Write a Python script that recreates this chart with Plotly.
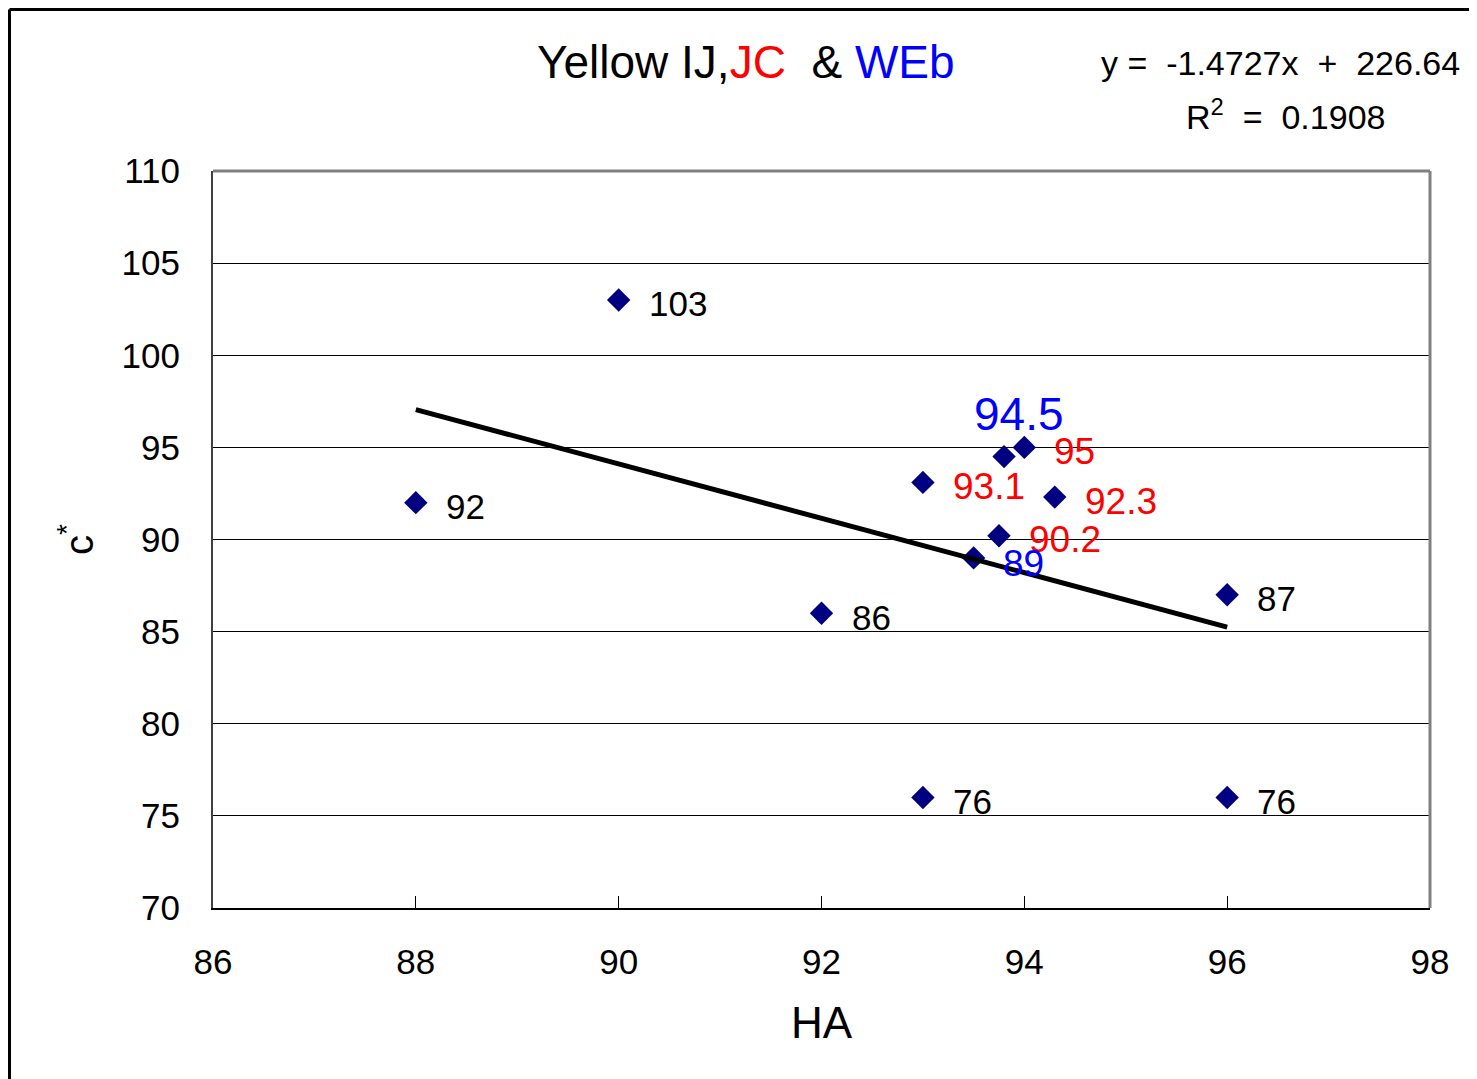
import numpy as np
import plotly.graph_objects as go

# points (HA on x, c* on y)
ha_ij = [88, 90, 92, 93, 96, 96]
c_ij = [92, 103, 86, 76, 76, 87]
ha_jc = [93.0, 94.0, 94.3, 93.75]
c_jc = [93.1, 95, 92.3, 90.2]
ha_web = [93.5, 93.8]
c_web = [89, 94.5]

x_ticks = [86, 88, 90, 92, 94, 96, 98]
y_ticks = [70, 75, 80, 85, 90, 95, 100, 105, 110]

FONT = "Liberation Sans, Arial, sans-serif"
NAVY = "#000080"

# plot area in page pixels, used to place the free text
L, R, T, B = 213, 1430, 171, 908
W, H = 1477, 1079
OFF = 8  # the page body margin shifts the figure by this much


def px(x):
    return (x - L) / (R - L)


def py(y):
    return (B - y) / (B - T)


all_x = np.array(ha_ij + ha_jc + ha_web)
all_y = np.array(c_ij + c_jc + c_web)
slope, icept = np.polyfit(all_x, all_y, 1)
trend_x = [all_x.min(), all_x.max()]
trend_y = [slope * v + icept for v in trend_x]

fig = go.Figure()

fig.add_trace(go.Scatter(
    x=ha_ij + ha_jc + ha_web, y=c_ij + c_jc + c_web,
    mode="markers",
    marker=dict(symbol="diamond", size=18, color=NAVY),
    showlegend=False, hoverinfo="x+y"))

# trendline sits on top of the markers, like in Excel
fig.add_trace(go.Scatter(
    x=trend_x, y=trend_y, mode="lines",
    line=dict(color="black", width=5),
    showlegend=False, hoverinfo="skip"))

annotations = []
for xs, ys, colour, size in [(ha_ij, c_ij, "black", 35), (ha_jc, c_jc, "#ff0000", 37)]:
    for xv, yv in zip(xs, ys):
        annotations.append(dict(
            x=xv, y=yv, xref="x", yref="y", text=f"{yv:g}", showarrow=False,
            xanchor="left", yanchor="middle", xshift=28, yshift=-4,
            font=dict(family=FONT, size=size, color=colour)))

# the two WEb labels are placed differently
annotations.append(dict(
    x=ha_web[0], y=c_web[0], xref="x", yref="y", text=f"{c_web[0]:g}",
    showarrow=False, xanchor="left", yanchor="middle", xshift=27, yshift=-6,
    font=dict(family=FONT, size=37, color="#0000ff")))
annotations.append(dict(
    x=ha_web[1], y=c_web[1], xref="x", yref="y", text=f"{c_web[1]:g}",
    showarrow=False, xanchor="center", yanchor="middle", xshift=15, yshift=43,
    font=dict(family=FONT, size=46, color="#0000ff")))

annotations += [
    dict(x=px(746), y=py(62), xref="paper", yref="paper", showarrow=False,
         xanchor="center", yanchor="middle",
         text="Yellow IJ,<span style='color:#ff0000'>JC</span>&nbsp; &amp; "
              "<span style='color:#0000ff'>WEb</span>",
         font=dict(family=FONT, size=46, color="black")),
    dict(x=px(1462), y=py(63), xref="paper", yref="paper", showarrow=False,
         xanchor="right", yanchor="middle",
         text="y =&nbsp; -1.4727x&nbsp; +&nbsp; 226.64",
         font=dict(family=FONT, size=34, color="black")),
    dict(x=px(1285), y=py(115), xref="paper", yref="paper", showarrow=False,
         xanchor="center", yanchor="middle",
         text="R<sup>2</sup>&nbsp; =&nbsp; 0.1908",
         font=dict(family=FONT, size=34, color="black")),
    dict(x=0.5, y=py(1022), xref="paper", yref="paper", showarrow=False,
         xanchor="center", yanchor="middle", text="HA",
         font=dict(family=FONT, size=44, color="black")),
    dict(x=px(76), y=py(540), xref="paper", yref="paper", showarrow=False,
         xanchor="center", yanchor="middle", text="c<sup>*</sup>", textangle=-90,
         font=dict(family=FONT, size=40, color="black")),
]

shapes = [
    # grey top and right edges of the plot area
    dict(type="line", xref="paper", yref="paper", x0=0, x1=1, y0=1, y1=1,
         line=dict(color="#808080", width=3)),
    dict(type="line", xref="paper", yref="paper", x0=1, x1=1, y0=0, y1=1,
         line=dict(color="#808080", width=3)),
    # outer chart border (runs off the right and bottom of the picture)
    dict(type="line", xref="paper", yref="paper", x0=px(9.5), x1=px(9.5),
         y0=py(9.5), y1=py(W + 20), line=dict(color="black", width=3)),
    dict(type="line", xref="paper", yref="paper", x0=px(9.5), x1=px(W + 20),
         y0=py(9.5), y1=py(9.5), line=dict(color="black", width=3)),
]

fig.update_layout(
    width=W, height=H,
    margin=dict(l=L - OFF, r=W - R + OFF, t=T - OFF, b=H - B + OFF, pad=0),
    paper_bgcolor="white", plot_bgcolor="white",
    font=dict(family=FONT, color="black"),
    annotations=annotations, shapes=shapes,
    showlegend=False,
)
fig.update_xaxes(
    range=[86, 98], tickvals=x_ticks, ticktext=[str(v) for v in x_ticks],
    ticks="inside", ticklen=12, tickcolor="black", tickwidth=1,
    showline=True, linecolor="black", linewidth=2,
    showgrid=False, zeroline=False,
    tickfont=dict(family=FONT, size=35, color="black"), ticklabelstandoff=22)
fig.update_yaxes(
    range=[70, 110], tickvals=y_ticks, ticktext=[str(v) for v in y_ticks],
    ticks="inside", ticklen=12, tickcolor="black", tickwidth=1,
    showline=True, linecolor="#404040", linewidth=2,
    showgrid=True, gridcolor="black", gridwidth=1, zeroline=False,
    tickfont=dict(family=FONT, size=35, color="black"), ticklabelstandoff=24)

fig.write_html("out.html")
